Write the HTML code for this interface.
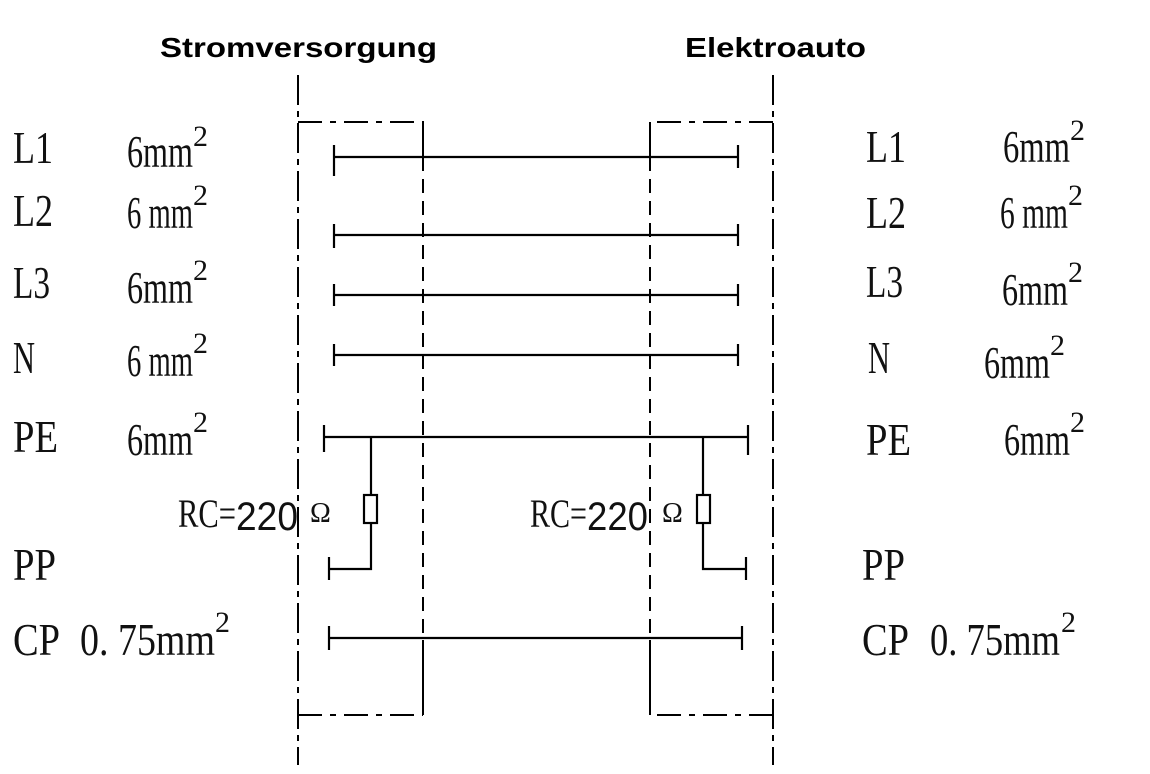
<!DOCTYPE html>
<html><head><meta charset="utf-8"><style>
html,body{margin:0;padding:0;background:#fff;}
svg{display:block;}
.t{font-family:"Liberation Serif",serif;font-size:46px;fill:#111;}
.s{font-family:"Liberation Serif",serif;font-size:30px;fill:#111;}
.h{font-family:"Liberation Sans",sans-serif;font-weight:bold;font-size:28px;fill:#000;}
</style></head><body>
<svg width="1150" height="774" viewBox="0 0 1150 774" xmlns="http://www.w3.org/2000/svg">
<text class="h" x="160" y="57" textLength="277" lengthAdjust="spacingAndGlyphs">Stromversorgung</text>
<text class="h" x="685" y="57" textLength="181" lengthAdjust="spacingAndGlyphs">Elektroauto</text>
<g stroke="#000" stroke-width="2" fill="none">
<line x1="298" y1="75" x2="298" y2="765" stroke-dasharray="30,6,6,6"/>
<line x1="773" y1="75" x2="773" y2="765" stroke-dasharray="30,6,6,6"/>
<polyline points="298,122 423,122 423,157" stroke-dasharray="24,8,6,8"/>
<line x1="423" y1="122" x2="423" y2="157"/>
<line x1="423" y1="157" x2="423" y2="715" stroke-dasharray="14,8"/>
<line x1="298" y1="715" x2="423" y2="715" stroke-dasharray="24,8,6,8"/>
<line x1="423" y1="640" x2="423" y2="715"/>
<polyline points="773,122 650,122 650,157" stroke-dasharray="24,8,6,8"/>
<line x1="650" y1="122" x2="650" y2="157"/>
<line x1="650" y1="157" x2="650" y2="715" stroke-dasharray="14,8"/>
<line x1="773" y1="715" x2="650" y2="715" stroke-dasharray="24,8,6,8"/>
<line x1="650" y1="640" x2="650" y2="715"/>
</g>
<g stroke="#000" stroke-width="2.2" fill="none">
<line x1="334" y1="157" x2="738" y2="157"/><line x1="334" y1="145" x2="334" y2="176"/><line x1="738" y1="145" x2="738" y2="168"/>
<line x1="334" y1="235" x2="738" y2="235"/><line x1="334" y1="224" x2="334" y2="248"/><line x1="738" y1="224" x2="738" y2="246"/>
<line x1="334" y1="295" x2="738" y2="295"/><line x1="334" y1="284" x2="334" y2="306"/><line x1="738" y1="284" x2="738" y2="306"/>
<line x1="334" y1="355" x2="738" y2="355"/><line x1="334" y1="344" x2="334" y2="366"/><line x1="738" y1="344" x2="738" y2="366"/>
<line x1="324" y1="437" x2="748" y2="437"/><line x1="324" y1="425" x2="324" y2="452"/><line x1="748" y1="425" x2="748" y2="455"/>
<line x1="371" y1="437" x2="371" y2="495"/><rect x="364" y="495" width="13" height="28"/><polyline points="371,523 371,569 329,569"/><line x1="329" y1="557" x2="329" y2="580"/>
<line x1="703" y1="437" x2="703" y2="495"/><rect x="697" y="495" width="13" height="28"/><polyline points="703,523 703,569 746,569"/><line x1="746" y1="557" x2="746" y2="580"/>
<line x1="329" y1="638" x2="742" y2="638"/><line x1="329" y1="626" x2="329" y2="650"/><line x1="742" y1="626" x2="742" y2="650"/>
</g>
<g class="t">
<text x="13" y="163" textLength="40" lengthAdjust="spacingAndGlyphs">L1</text>
<text x="13" y="226" textLength="40" lengthAdjust="spacingAndGlyphs">L2</text>
<text x="13" y="298" textLength="37" lengthAdjust="spacingAndGlyphs">L3</text>
<text x="13" y="373" textLength="22" lengthAdjust="spacingAndGlyphs">N</text>
<text x="13" y="452" textLength="45" lengthAdjust="spacingAndGlyphs">PE</text>
<text x="13" y="580" textLength="43" lengthAdjust="spacingAndGlyphs">PP</text>
<text x="13" y="655" textLength="47" lengthAdjust="spacingAndGlyphs">CP</text>
<text x="127" y="167" textLength="66" lengthAdjust="spacingAndGlyphs">6mm</text>
<text x="127" y="228" textLength="66" lengthAdjust="spacingAndGlyphs">6 mm</text>
<text x="127" y="303" textLength="66" lengthAdjust="spacingAndGlyphs">6mm</text>
<text x="127" y="376" textLength="66" lengthAdjust="spacingAndGlyphs">6 mm</text>
<text x="127" y="455" textLength="66" lengthAdjust="spacingAndGlyphs">6mm</text>
<text x="80" y="655" textLength="135" lengthAdjust="spacingAndGlyphs">0. 75mm</text>
<text x="866" y="162" textLength="40" lengthAdjust="spacingAndGlyphs">L1</text>
<text x="866" y="228" textLength="40" lengthAdjust="spacingAndGlyphs">L2</text>
<text x="866" y="297" textLength="37" lengthAdjust="spacingAndGlyphs">L3</text>
<text x="868" y="373" textLength="22" lengthAdjust="spacingAndGlyphs">N</text>
<text x="866" y="455" textLength="45" lengthAdjust="spacingAndGlyphs">PE</text>
<text x="862" y="580" textLength="43" lengthAdjust="spacingAndGlyphs">PP</text>
<text x="862" y="655" textLength="47" lengthAdjust="spacingAndGlyphs">CP</text>
<text x="1003" y="162" textLength="67" lengthAdjust="spacingAndGlyphs">6mm</text>
<text x="1000" y="228" textLength="68" lengthAdjust="spacingAndGlyphs">6 mm</text>
<text x="1002" y="305" textLength="66" lengthAdjust="spacingAndGlyphs">6mm</text>
<text x="984" y="378" textLength="66" lengthAdjust="spacingAndGlyphs">6mm</text>
<text x="1004" y="455" textLength="66" lengthAdjust="spacingAndGlyphs">6mm</text>
<text x="930" y="655" textLength="130" lengthAdjust="spacingAndGlyphs">0. 75mm</text>
</g>
<g class="s">
<text x="193" y="146">2</text><text x="193" y="205">2</text><text x="193" y="280">2</text>
<text x="193" y="353">2</text><text x="193" y="432">2</text><text x="215" y="632">2</text>
<text x="1070" y="140">2</text><text x="1068" y="205">2</text><text x="1068" y="282">2</text>
<text x="1050" y="355">2</text><text x="1070" y="432">2</text><text x="1061" y="632">2</text>
</g>
<text x="178" y="527" font-family="Liberation Serif,serif" font-size="40" fill="#111" textLength="58" lengthAdjust="spacingAndGlyphs">RC=</text>
<text x="236" y="530" font-family="Liberation Sans,sans-serif" font-size="40" fill="#111" textLength="62" lengthAdjust="spacingAndGlyphs">220</text>
<text x="310" y="522" font-family="Liberation Serif,serif" font-size="28" fill="#111">Ω</text>
<text x="530" y="527" font-family="Liberation Serif,serif" font-size="40" fill="#111" textLength="57" lengthAdjust="spacingAndGlyphs">RC=</text>
<text x="587" y="530" font-family="Liberation Sans,sans-serif" font-size="40" fill="#111" textLength="61" lengthAdjust="spacingAndGlyphs">220</text>
<text x="662" y="522" font-family="Liberation Serif,serif" font-size="28" fill="#111">Ω</text>
</svg>
</body></html>
